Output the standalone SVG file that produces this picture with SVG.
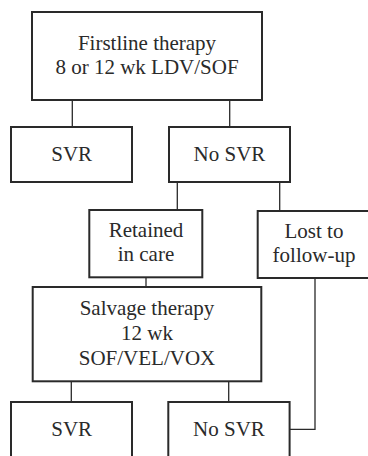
<svg xmlns="http://www.w3.org/2000/svg" width="368" height="456" viewBox="0 0 368 456">
<style>
.box{fill:#fff;stroke:#2a2a2a;stroke-width:2}
.t{font-size:21px;fill:#2a2a2a;text-anchor:middle}
.c{fill:none;stroke:#2a2a2a;stroke-width:1.3}
</style>
<rect width="368" height="456" fill="#fff"/>
<g id="connectors">
<line class="c" x1="72.3" y1="101" x2="72.3" y2="126"/>
<line class="c" x1="229.7" y1="101" x2="229.7" y2="126"/>
<line class="c" x1="177.3" y1="183" x2="177.3" y2="210"/>
<line class="c" x1="279.7" y1="183" x2="279.7" y2="211"/>
<line class="c" x1="146" y1="278" x2="146" y2="287"/>
<line class="c" x1="71.3" y1="382" x2="71.3" y2="402"/>
<line class="c" x1="228.7" y1="382" x2="228.7" y2="402"/>
<polyline class="c" points="315,279 315,429.3 290,429.3"/>
</g>
<g font-family="Liberation Serif, DejaVu Serif, serif">
<g id="firstline">
<rect class="box" x="32" y="12" width="230" height="88"/>
<text class="t" x="147" y="50">Firstline therapy</text>
<text class="t" x="147" y="74">8 or 12 wk LDV/SOF</text>
</g>
<g id="svr1">
<rect class="box" x="11" y="127" width="121" height="55"/>
<text class="t" x="71.7" y="161">SVR</text>
</g>
<g id="nosvr1">
<rect class="box" x="169" y="127" width="121" height="55"/>
<text class="t" x="229.5" y="161">No SVR</text>
</g>
<g id="retained">
<rect class="box" x="89.3" y="210" width="113" height="67.3"/>
<text class="t" x="146" y="237">Retained</text>
<text class="t" x="146" y="261">in care</text>
</g>
<g id="lost">
<rect class="box" x="257.7" y="211" width="120" height="67"/>
<text class="t" x="314" y="238">Lost to</text>
<text class="t" x="314" y="262">follow-up</text>
</g>
<g id="salvage">
<rect class="box" x="32.7" y="287" width="228.6" height="94.3"/>
<text class="t" x="147" y="315">Salvage therapy</text>
<text class="t" x="147" y="340">12 wk</text>
<text class="t" x="147" y="365">SOF/VEL/VOX</text>
</g>
<g id="svr2">
<rect class="box" x="11" y="402" width="121" height="60"/>
<text class="t" x="71.7" y="436">SVR</text>
</g>
<g id="nosvr2">
<rect class="box" x="168.3" y="402" width="121.3" height="60"/>
<text class="t" x="229" y="436">No SVR</text>
</g>
</g>
</svg>
